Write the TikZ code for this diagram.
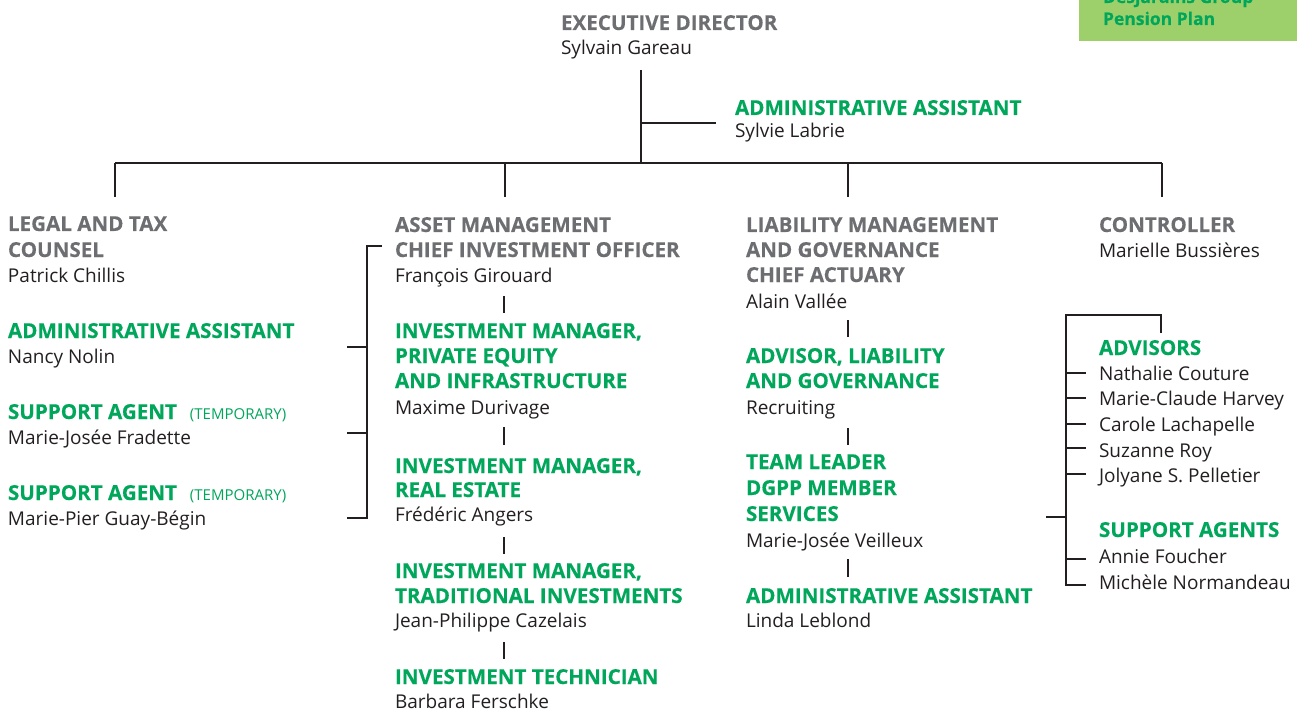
\documentclass[tikz,border=0pt]{standalone}
\usepackage{fontspec}
\setmainfont{Open Sans}[BoldFeatures={FakeBold=0.3}]
\definecolor{headgray}{HTML}{6D6E71}
\definecolor{rolegreen}{HTML}{00A65A}
\definecolor{inkblack}{HTML}{231F20}
\definecolor{tabgreen}{HTML}{9DD06B}
\newcommand\chartsize{\fontsize{19}{24}\selectfont}
\newcommand\boldsize{\fontsize{20.6}{24}\selectfont}
\newcommand\smallsize{\fontsize{15}{17}\selectfont}
\newcommand\tabsize{\fontsize{17.5}{20}\selectfont}
\tikzset{
  txt/.style={anchor=base west, inner sep=0pt, outer sep=0pt},
  head/.style={txt, font=\boldsize\bfseries, text=headgray},
  role/.style={txt, font=\boldsize\bfseries, text=rolegreen},
  person/.style={txt, font=\chartsize, text=inkblack},
  link/.style={draw=inkblack, line width=2.2pt},
  tick/.style={draw=inkblack, line width=2pt},
}
\begin{document}
\begin{tikzpicture}[x=1pt, y=-1pt]
\useasboundingbox (0,0) rectangle (1297,711);

% plan tab, top right
\fill[tabgreen] (1079,-5) rectangle (1297,41);
\node[txt, font=\tabsize\bfseries, text=rolegreen] (tab1) at (1103,3) {Desjardins Group};
\node[txt, font=\tabsize\bfseries, text=rolegreen] (tab2) at (1103,25) {Pension Plan};

% executive director
\node[head] (ed) at (561,30) {EXECUTIVE DIRECTOR};
\node[person] (edn) at (561,55) {Sylvain Gareau};
\node[role] (aa) at (735,115) {ADMINISTRATIVE ASSISTANT};
\node[person] (aan) at (735,138) {Sylvie Labrie};

\coordinate (edtop) at (641,70);
\coordinate (edbar) at (641,163);
\coordinate (aastub) at (641,123);
\coordinate (aaend) at (716,123);
\coordinate (barL) at (115,163);
\coordinate (barR) at (1162,163);
\coordinate (d1) at (115,197);
\coordinate (d2) at (505,197);
\coordinate (d3) at (848,197);
\coordinate (d4) at (1162,197);
\coordinate (t2) at (505,163);
\coordinate (t3) at (848,163);

\draw[link] (edtop) -- (edbar);
\draw[link] (aastub) -- (aaend);
\draw[link] (barL) -- (barR);
\draw[link] (barL) -- (d1);
\draw[link] (t2) -- (d2);
\draw[link] (t3) -- (d3);
\draw[link] (barR) -- (d4);

% legal and tax counsel
\node[head] (lg1) at (8,231) {LEGAL AND TAX};
\node[head] (lg2) at (8,257) {COUNSEL};
\node[person] (lgn) at (8,282) {Patrick Chillis};
\node[role] (la) at (8,338) {ADMINISTRATIVE ASSISTANT};
\node[person] (lan) at (8,363) {Nancy Nolin};
\node[role] (ls1) at (8,419) {SUPPORT AGENT\hspace{13pt}{\smallsize\mdseries(TEMPORARY)}};
\node[person] (ls1n) at (8,444) {Marie-Josée Fradette};
\node[role] (ls2) at (8,500) {SUPPORT AGENT\hspace{13pt}{\smallsize\mdseries(TEMPORARY)}};
\node[person] (ls2n) at (8,525) {Marie-Pier Guay-Bégin};

\coordinate (bkTop) at (367,246);
\coordinate (bkTopEnd) at (382,246);
\coordinate (bk1) at (367,347);
\coordinate (bk1e) at (347,347);
\coordinate (bk2) at (367,433);
\coordinate (bk2e) at (347,433);
\coordinate (bk3) at (367,518);
\coordinate (bk3e) at (347,518);
\draw[link] (bkTopEnd) -- (bkTop) -- (bk3) -- (bk3e);
\draw[link] (bk1) -- (bk1e);
\draw[link] (bk2) -- (bk2e);

% asset management
\node[head] (am1) at (395,232) {ASSET MANAGEMENT};
\node[head] (am2) at (395,257) {CHIEF INVESTMENT OFFICER};
\node[person] (amn) at (395,282) {François Girouard};
\node[role] (pe1) at (395,338) {INVESTMENT MANAGER,};
\node[role] (pe2) at (395,363) {PRIVATE EQUITY};
\node[role] (pe3) at (395,388) {AND INFRASTRUCTURE};
\node[person] (pen) at (395,414) {Maxime Durivage};
\node[role] (re1) at (395,473) {INVESTMENT MANAGER,};
\node[role] (re2) at (395,497) {REAL ESTATE};
\node[person] (ren) at (395,521) {Frédéric Angers};
\node[role] (ti1) at (395,578) {INVESTMENT MANAGER,};
\node[role] (ti2) at (395,603) {TRADITIONAL INVESTMENTS};
\node[person] (tin) at (395,627) {Jean-Philippe Cazelais};
\node[role] (tc) at (395,684) {INVESTMENT TECHNICIAN};
\node[person] (tcn) at (395,708) {Barbara Ferschke};

\coordinate (a1t) at (504,296); \coordinate (a1b) at (504,313);
\coordinate (a2t) at (504,427); \coordinate (a2b) at (504,445);
\coordinate (a3t) at (504,537); \coordinate (a3b) at (504,554);
\coordinate (a4t) at (504,642); \coordinate (a4b) at (504,659);
\draw[tick] (a1t) -- (a1b);
\draw[tick] (a2t) -- (a2b);
\draw[tick] (a3t) -- (a3b);
\draw[tick] (a4t) -- (a4b);

% liability management and governance
\node[head] (lm1) at (746,232) {LIABILITY MANAGEMENT};
\node[head] (lm2) at (746,257) {AND GOVERNANCE};
\node[head] (lm3) at (746,282) {CHIEF ACTUARY};
\node[person] (lmn) at (746,308) {Alain Vallée};
\node[role] (ad1) at (746,363) {ADVISOR, LIABILITY};
\node[role] (ad2) at (746,388) {AND GOVERNANCE};
\node[person] (adn) at (746,414) {Recruiting};
\node[role] (tl1) at (746,469) {TEAM LEADER};
\node[role] (tl2) at (746,495) {DGPP MEMBER};
\node[role] (tl3) at (746,521) {SERVICES};
\node[person] (tln) at (746,547) {Marie-Josée Veilleux};
\node[role] (la2) at (746,603) {ADMINISTRATIVE ASSISTANT};
\node[person] (la2n) at (746,627) {Linda Leblond};

\coordinate (l1t) at (848,320); \coordinate (l1b) at (848,337);
\coordinate (l2t) at (848,428); \coordinate (l2b) at (848,445);
\coordinate (l3t) at (848,559); \coordinate (l3b) at (848,577);
\draw[tick] (l1t) -- (l1b);
\draw[tick] (l2t) -- (l2b);
\draw[tick] (l3t) -- (l3b);

% controller
\node[head] (ct) at (1099,232) {CONTROLLER};
\node[person] (ctn) at (1099,257) {Marielle Bussières};
\node[role] (adv) at (1099,355) {ADVISORS};
\node[person] (adv1) at (1099,380) {Nathalie Couture};
\node[person] (adv2) at (1099,405) {Marie-Claude Harvey};
\node[person] (adv3) at (1099,431) {Carole Lachapelle};
\node[person] (adv4) at (1099,457) {Suzanne Roy};
\node[person] (adv5) at (1099,482) {Jolyane S. Pelletier};
\node[role] (sa) at (1099,537) {SUPPORT AGENTS};
\node[person] (sa1) at (1099,563) {Annie Foucher};
\node[person] (sa2) at (1099,589) {Michèle Normandeau};

\coordinate (cbR) at (1161,333);
\coordinate (cbRT) at (1161,315);
\coordinate (cbLT) at (1066,315);
\coordinate (cbLB) at (1066,585);
\coordinate (cbBE) at (1086,585);
\draw[link] (cbR) -- (cbRT) -- (cbLT) -- (cbLB) -- (cbBE);
\foreach \yy in {373,398,424,448,474,559}
  \draw[link] (1066,\yy) coordinate (s\yy) -- (1086,\yy) coordinate (e\yy);
\coordinate (cbM) at (1066,517);
\coordinate (cbMe) at (1046,517);
\draw[link] (cbM) -- (cbMe);
\end{tikzpicture}
\end{document}
